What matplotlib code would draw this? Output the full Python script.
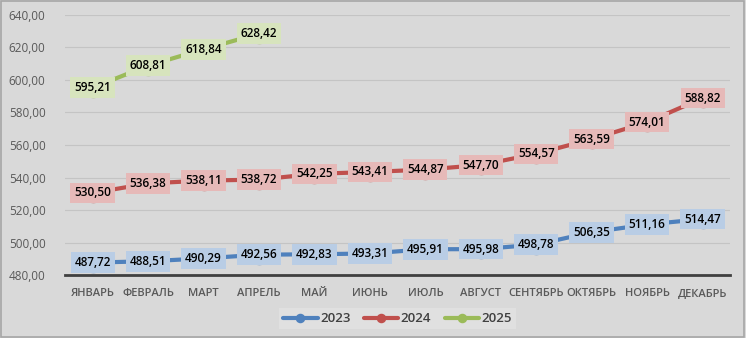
import numpy as np
import matplotlib.pyplot as plt
from matplotlib.ticker import MultipleLocator, FuncFormatter

plt.rcParams['font.family'] = ['Open Sans', 'DejaVu Sans']

# данные
months = ['ЯНВАРЬ', 'ФЕВРАЛЬ', 'МАРТ', 'АПРЕЛЬ', 'МАЙ', 'ИЮНЬ', 'ИЮЛЬ',
          'АВГУСТ', 'СЕНТЯБРЬ', 'ОКТЯБРЬ', 'НОЯБРЬ', 'ДЕКАБРЬ']
v2023 = [487.72, 488.51, 490.29, 492.56, 492.83, 493.31, 495.91,
         495.98, 498.78, 506.35, 511.16, 514.47]
v2024 = [530.50, 536.38, 538.11, 538.72, 542.25, 543.41, 544.87,
         547.70, 554.57, 563.59, 574.01, 588.82]
v2025 = [595.21, 608.81, 618.84, 628.42]

series = [('2023', v2023, '#4f81bd', '#b9cde5'),
          ('2024', v2024, '#c0504d', '#e6b9b8'),
          ('2025', v2025, '#9bbb59', '#d7e4bd')]

bg = '#d9d9d9'
fig = plt.figure(figsize=(7.46, 3.38), dpi=100, facecolor=bg)
ax = fig.add_axes([0.087, 0.186, 0.892, 0.770])
ax.set_facecolor(bg)

x = np.arange(len(months))
for name, vals, col, lab in series:
    xs = x[:len(vals)]
    ax.plot(xs, vals, color=col, lw=3, marker='o', ms=13, label=name,
            zorder=3, solid_capstyle='round')
    for xi, v in zip(xs, vals):
        ax.text(xi, v, f'{v:.2f}'.replace('.', ','), ha='center', va='center',
                fontsize=8.5, fontweight='semibold', color='black', zorder=5,
                bbox=dict(boxstyle='square,pad=0.32', fc=lab, ec='none'))

ax.set_xlim(-0.5, 11.5)
ax.set_ylim(480, 640)
ax.yaxis.set_major_locator(MultipleLocator(20))
ax.yaxis.set_major_formatter(FuncFormatter(lambda v, p: f'{v:.2f}'.replace('.', ',')))
ax.set_xticks(x)
ax.set_xticklabels(months, fontsize=8, fontweight='semibold', color='#595959')
ax.tick_params(axis='y', labelsize=8.5, labelcolor='#595959', length=0, pad=14)
ax.tick_params(axis='x', length=0, pad=9)
ax.grid(axis='y', color='#c4c4c4', lw=0.8)
ax.set_axisbelow(True)
for s in ['top', 'right', 'left']:
    ax.spines[s].set_visible(False)
ax.spines['bottom'].set_color('#404040')
ax.spines['bottom'].set_linewidth(2)

leg = ax.legend(loc='center', bbox_to_anchor=(0.5, -0.168), ncol=3, frameon=True,
                fontsize=9.5, handlelength=2.6, handletextpad=0.2, columnspacing=1.0,
                markerscale=0.45, borderpad=0.3, fancybox=False)
leg.get_frame().set_facecolor('#e3e3e3')
leg.get_frame().set_edgecolor('none')
for t in leg.get_texts():
    t.set_color('#404040')
    t.set_fontweight('semibold')

fig.patches.append(plt.Rectangle((0.002, 0.003), 0.995, 0.993, transform=fig.transFigure,
                                 fill=False, ec='#a6a6a6', lw=1.2))
fig.savefig('out.png', dpi=100, facecolor=bg)
